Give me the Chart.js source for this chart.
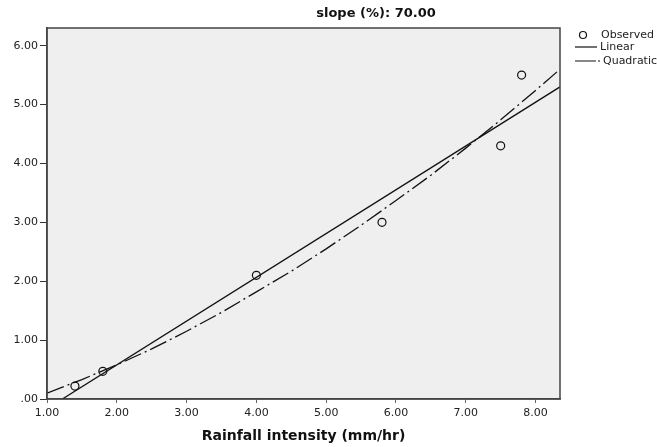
<!DOCTYPE html>
<html>
<head>
<meta charset="utf-8">
<script src="https://cdn.jsdelivr.net/npm/chart.js@4/dist/chart.umd.min.js"></script>
<style>
  body { margin: 0; background: #fff; }
</style>
</head>
<body>
<canvas id="curveChart" width="657" height="447"></canvas>
<script>
const xTicks = [1, 2, 3, 4, 5, 6, 7, 8];
const yTicks = [0, 1, 2, 3, 4, 5, 6];

// observed points
const obsX = [1.4, 1.8, 4.0, 5.8, 7.5, 7.8];
const obsY = [0.22, 0.47, 2.10, 3.00, 4.30, 5.50];

// fitted lines
const linX = [1.22, 8.35];
const linY = [0.00, 5.30];
const quadX = [1.0, 1.5, 2.0, 2.5, 3.0, 3.5, 4.0, 4.5, 5.0, 5.5, 6.0, 6.5, 7.0, 7.5, 8.0, 8.35];
const quadY = [0.10, 0.33, 0.58, 0.85, 1.15, 1.47, 1.82, 2.17, 2.55, 2.95, 3.37, 3.80, 4.26, 4.74, 5.24, 5.60];

const toPoints = (xs, ys) => xs.map((x, i) => ({ x: x, y: ys[i] }));

const FONT = "'DejaVu Sans', sans-serif";
const quadDash = [18, 4, 2, 4];

const framePlugin = {
  id: "frame",
  beforeDraw(chart) {
    const { ctx, chartArea: a } = chart;
    ctx.save();
    ctx.fillStyle = "#fff";
    ctx.fillRect(0, 0, chart.width, chart.height);
    ctx.fillStyle = "#efefef";
    ctx.fillRect(a.left, a.top, a.right - a.left, a.bottom - a.top);
    ctx.restore();
  },
  afterDraw(chart) {
    const { ctx, chartArea: a } = chart;
    ctx.save();
    ctx.strokeStyle = "#444";
    ctx.lineWidth = 1.5;
    ctx.strokeRect(a.left, a.top, a.right - a.left, a.bottom - a.top);

    // title
    ctx.fillStyle = "#111";
    ctx.font = "bold 13px " + FONT;
    ctx.textAlign = "center";
    ctx.textBaseline = "middle";
    ctx.fillText("slope (%): 70.00", 376, 14);

    // legend
    ctx.font = "11px " + FONT;
    ctx.textAlign = "left";
    ctx.fillStyle = "#222";
    ctx.strokeStyle = "#111";
    ctx.lineWidth = 1.2;
    ctx.beginPath();
    ctx.arc(583, 35, 3.5, 0, Math.PI * 2);
    ctx.stroke();
    ctx.fillText("Observed", 601, 35);

    ctx.beginPath();
    ctx.moveTo(575, 47);
    ctx.lineTo(597, 47);
    ctx.stroke();
    ctx.fillText("Linear", 600, 47);

    ctx.beginPath();
    ctx.moveTo(575, 61);
    ctx.lineTo(596, 61);
    ctx.moveTo(598, 61);
    ctx.lineTo(600, 61);
    ctx.stroke();
    ctx.fillText("Quadratic", 603, 61);
    ctx.restore();
  }
};

const chart = new Chart(document.getElementById("curveChart"), {
  type: "scatter",
  data: {
    datasets: [
      {
        label: "Observed",
        data: toPoints(obsX, obsY),
        pointStyle: "circle",
        pointRadius: 4,
        borderColor: "#111",
        borderWidth: 1.2,
        backgroundColor: "rgba(0,0,0,0)"
      },
      {
        label: "Linear",
        data: toPoints(linX, linY),
        showLine: true,
        pointRadius: 0,
        borderColor: "#111",
        borderWidth: 1.3
      },
      {
        label: "Quadratic",
        data: toPoints(quadX, quadY),
        showLine: true,
        pointRadius: 0,
        borderColor: "#111",
        borderWidth: 1.3,
        borderDash: quadDash
      }
    ]
  },
  options: {
    responsive: false,
    animation: false,
    layout: { padding: { top: 28, right: 97, left: 0, bottom: 0 } },
    plugins: {
      legend: { display: false },
      tooltip: { enabled: false }
    },
    scales: {
      x: {
        type: "linear",
        min: 1,
        max: 8.35,
        afterBuildTicks: s => { s.ticks = xTicks.map(v => ({ value: v })); },
        afterFit: s => { s.height = 48; },
        ticks: {
          color: "#222",
          font: { family: FONT, size: 11 },
          padding: 4,
          maxRotation: 0,
          callback: v => v.toFixed(2)
        },
        grid: { drawOnChartArea: false, tickLength: 4, color: "#666" },
        border: { color: "#444", width: 1.5 },
        title: {
          display: true,
          text: "Rainfall intensity (mm/hr)",
          color: "#111",
          font: { family: FONT, size: 14, weight: "bold" },
          padding: { top: 0, bottom: 2 }
        }
      },
      y: {
        type: "linear",
        min: 0,
        max: 6.3,
        afterBuildTicks: s => { s.ticks = yTicks.map(v => ({ value: v })); },
        afterFit: s => { s.width = 47; },
        ticks: {
          color: "#222",
          font: { family: FONT, size: 11 },
          padding: 2,
          callback: v => v === 0 ? ".00" : v.toFixed(2)
        },
        grid: { drawOnChartArea: false, tickLength: 7, color: "#333" },
        border: { color: "#444", width: 1.5 }
      }
    }
  },
  plugins: [framePlugin]
});
</script>
</body>
</html>
